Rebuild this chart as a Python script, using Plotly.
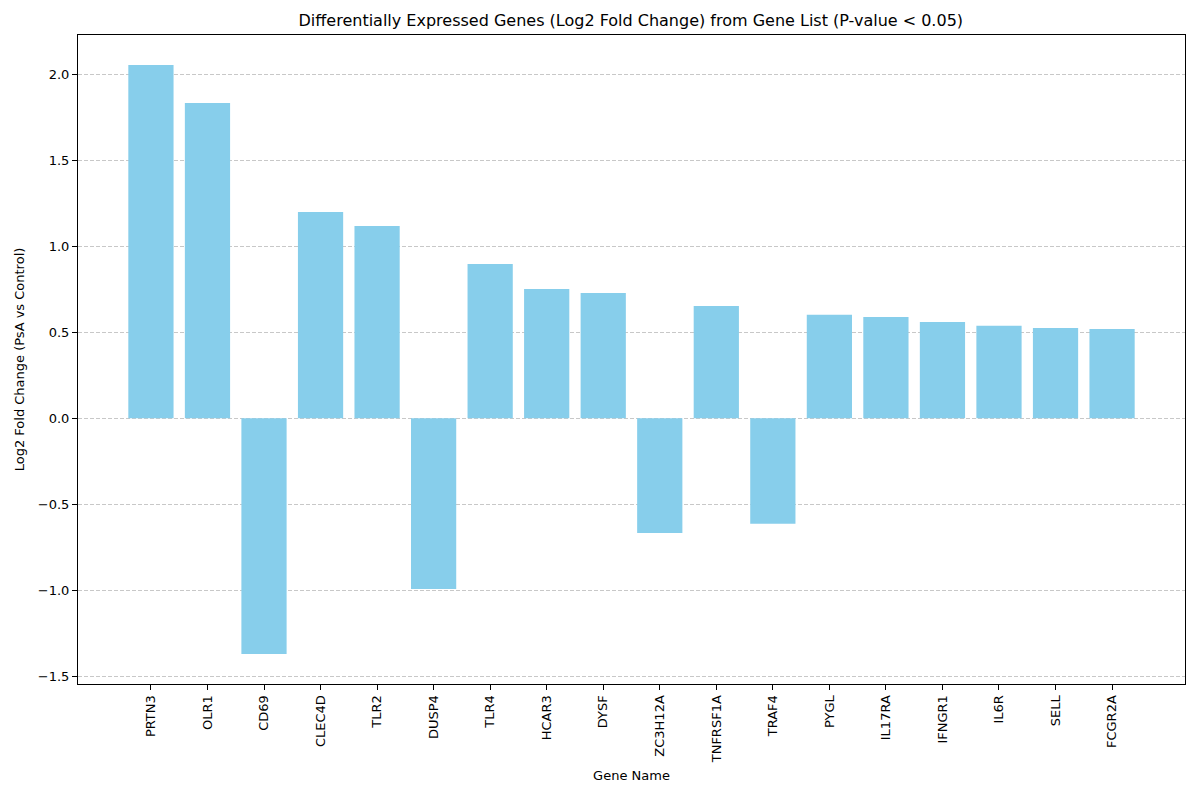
from plotly import graph_objects as go

genes = ["PRTN3", "OLR1", "CD69", "CLEC4D", "TLR2", "DUSP4", "TLR4", "HCAR3", "DYSF",
         "ZC3H12A", "TNFRSF1A", "TRAF4", "PYGL", "IL17RA", "IFNGR1", "IL6R", "SELL", "FCGR2A"]
log2fc = [2.054, 1.833, -1.370, 1.199, 1.118, -0.992, 0.897, 0.752, 0.728,
          -0.667, 0.653, -0.614, 0.601, 0.589, 0.560, 0.537, 0.525, 0.519]
y_ticks = [-1.5, -1.0, -0.5, 0.0, 0.5, 1.0, 1.5, 2.0]
y_tick_labels = ["\u22121.5", "\u22121.0", "\u22120.5", "0.0", "0.5", "1.0", "1.5", "2.0"]

fig = go.Figure()
fig.add_trace(go.Bar(
    x=list(range(len(genes))),
    y=log2fc,
    width=0.8,
    marker=dict(color="#87CEEB", line=dict(width=0)),
))

# page body has an 8px margin, so margins are shifted to compensate
fig.update_layout(
    width=1200,
    height=800,
    font_family="DejaVu Sans",
    font_color="black",
    font_size=13,
    plot_bgcolor="white",
    paper_bgcolor="white",
    showlegend=False,
    margin=dict(l=70, r=23, t=27, b=124),
    title=dict(
        text="Differentially Expressed Genes (Log2 Fold Change) from Gene List (P-value < 0.05)",
        font=dict(size=16),
        x=0.519, xanchor="center",
        y=0.984, yanchor="middle",
    ),
)
fig.update_xaxes(
    tickvals=list(range(len(genes))),
    ticktext=genes,
    tickangle=-90,
    range=[-1.29, 17 + 1.29],
    showgrid=False,
    zeroline=False,
    showline=True, linecolor="black", linewidth=1, mirror=True,
    ticks="outside", ticklen=5, tickcolor="black",
    title=dict(text="Gene Name", font=dict(size=13), standoff=8),
)
fig.update_yaxes(
    tickvals=y_ticks,
    ticktext=y_tick_labels,
    range=[-1.545, 2.228],
    showgrid=True, gridcolor="#c8c8c8", griddash="4px,2px", gridwidth=1,
    zeroline=False,
    showline=True, linecolor="black", linewidth=1, mirror=True,
    ticks="outside", ticklen=5, tickcolor="black",
    layer="above traces",
    title=dict(text="Log2 Fold Change (PsA vs Control)", font=dict(size=13), standoff=10),
)

fig.write_html("out.html")
